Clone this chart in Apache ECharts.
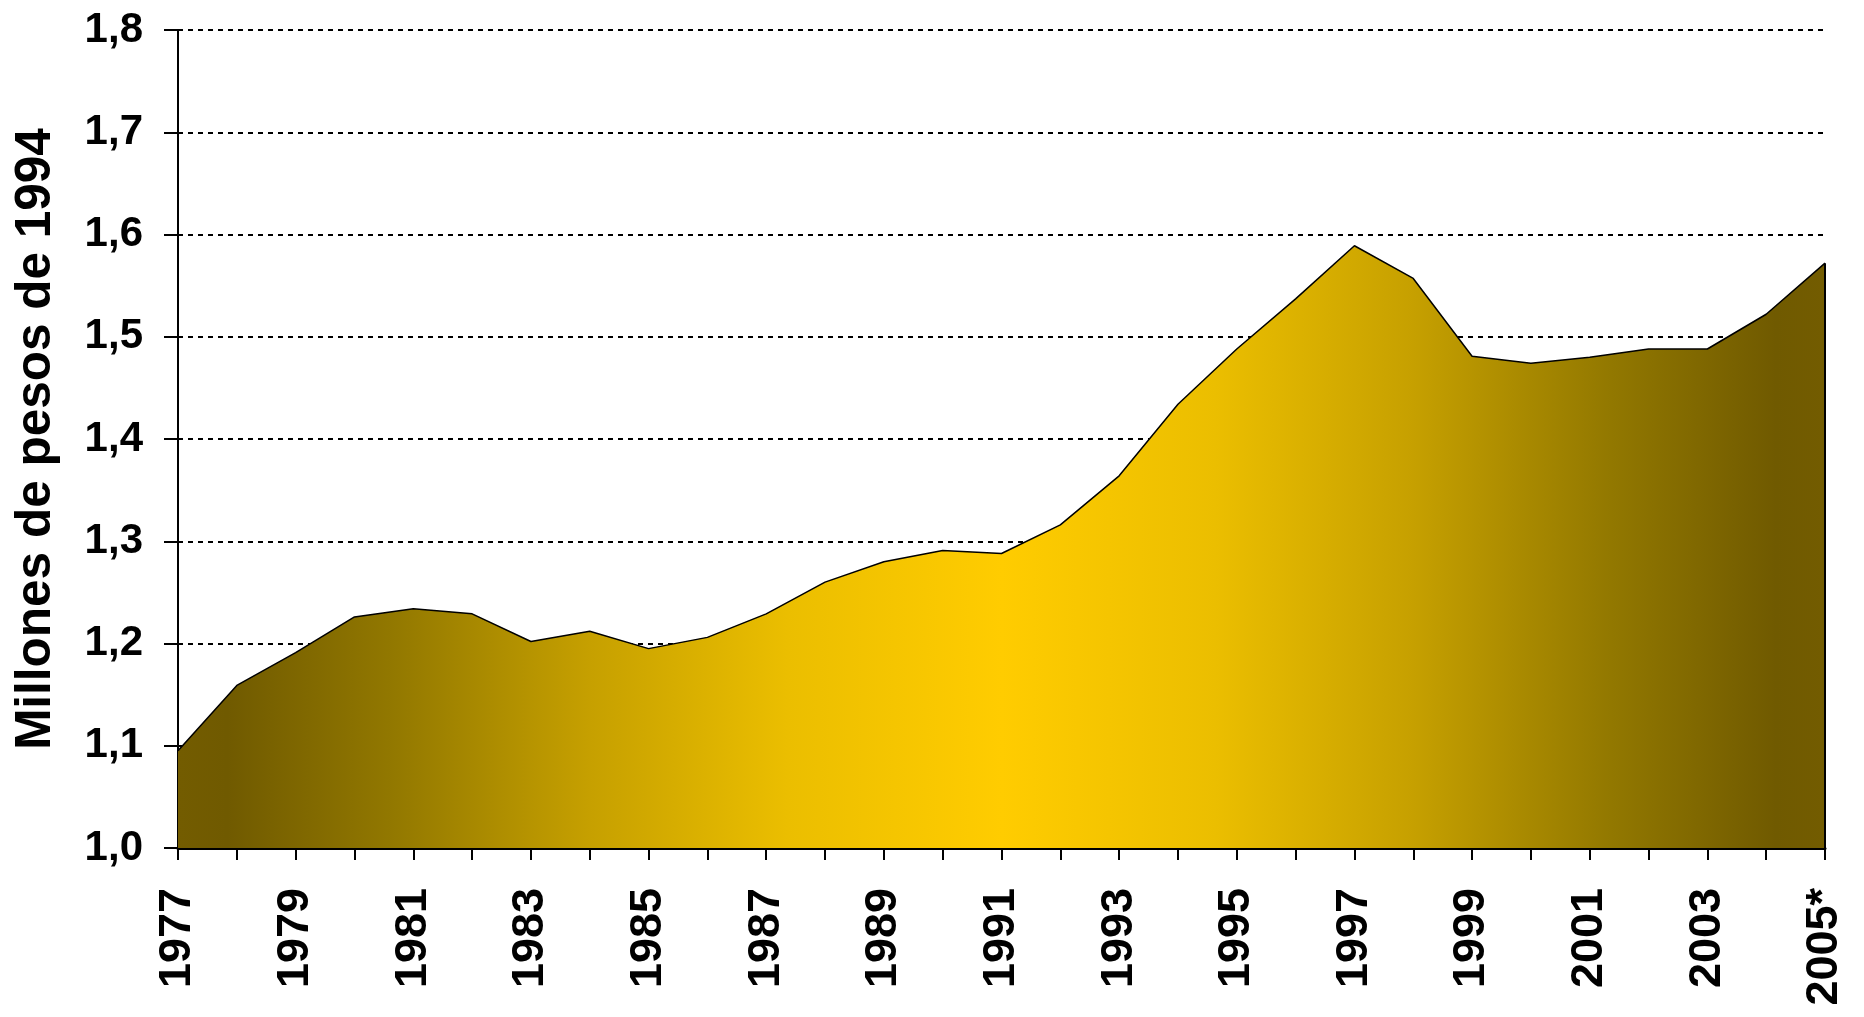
<!DOCTYPE html>
<html>
<head>
<meta charset="utf-8">
<script src="https://cdn.jsdelivr.net/npm/echarts@6/dist/echarts.min.js"></script>
<style>
  html, body { margin: 0; padding: 0; background: #fff; }
  #chart { width: 1864px; height: 1017px; }
</style>
</head>
<body>
<div id="chart"></div>
<script>
  // años (el último es estimado)
  const years = ['1977', '1978', '1979', '1980', '1981', '1982', '1983', '1984', '1985', '1986',
    '1987', '1988', '1989', '1990', '1991', '1992', '1993', '1994', '1995', '1996',
    '1997', '1998', '1999', '2000', '2001', '2002', '2003', '2004', '2005*']
  // millones de pesos de 1994
  const values = [1.095, 1.159, 1.191, 1.226, 1.234, 1.229, 1.202, 1.212, 1.195, 1.206,
    1.229, 1.260, 1.280, 1.291, 1.288, 1.316, 1.364, 1.434, 1.488, 1.537,
    1.589, 1.557, 1.481, 1.474, 1.480, 1.488, 1.488, 1.522, 1.572]
  const yTicks = [1.0, 1.1, 1.2, 1.3, 1.4, 1.5, 1.6, 1.7, 1.8]

  const font = "'Liberation Sans', Arial, sans-serif"
  const chart = echarts.init(document.getElementById('chart'))
  const last = years.length - 1

  chart.setOption({
    animation: false,
    grid: {
      left: 178,
      right: 39,
      top: 30,
      bottom: 169
    },
    xAxis: {
      type: 'category',
      data: years,
      boundaryGap: false,
      axisLine: { lineStyle: { color: '#000', width: 3 } },
      axisTick: {
        interval: 0,
        length: 12,
        lineStyle: { color: '#000', width: 2 }
      },
      axisLabel: {
        interval: 1,
        rotate: 90,
        margin: 40,
        color: '#000',
        fontFamily: font,
        fontWeight: 'bold',
        fontSize: 45
      },
      splitLine: { show: false }
    },
    yAxis: {
      type: 'value',
      min: yTicks[0],
      max: yTicks[yTicks.length - 1],
      interval: 0.1,
      name: 'Millones de pesos de 1994',
      nameLocation: 'middle',
      nameRotate: 90,
      nameGap: 117,
      nameTextStyle: {
        color: '#000',
        fontFamily: font,
        fontWeight: 'bold',
        fontSize: 49.5
      },
      axisLine: { show: true, lineStyle: { color: '#000', width: 2 } },
      axisTick: { show: true, length: 14, lineStyle: { color: '#000', width: 2 } },
      axisLabel: {
        margin: 35,
        color: '#000',
        fontFamily: font,
        fontWeight: 'bold',
        fontSize: 42,
        formatter: v => v.toFixed(1).replace('.', ',')
      },
      splitLine: {
        lineStyle: { color: '#000', width: 2, type: [5, 5] }
      }
    },
    series: [{
      type: 'line',
      data: values,
      symbol: 'none',
      z: 1,
      lineStyle: { color: '#000', width: 1.5 },
      areaStyle: {
        opacity: 1,
        origin: 'start',
        color: new echarts.graphic.LinearGradient(0, 0, 1, 0, [
          { offset: 0, color: '#735c00' },
          { offset: 0.03, color: '#705a00' },
          { offset: 0.13, color: '#927800' },
          { offset: 0.25, color: '#c6a000' },
          { offset: 0.37, color: '#ebbe00' },
          { offset: 0.5, color: '#ffcc00' },
          { offset: 0.63, color: '#ebbe00' },
          { offset: 0.75, color: '#c6a000' },
          { offset: 0.87, color: '#927800' },
          { offset: 0.97, color: '#705a00' },
          { offset: 1, color: '#735c00' }
        ])
      },
      markLine: {
        silent: true,
        symbol: 'none',
        label: { show: false },
        lineStyle: { color: '#000', width: 2, type: 'solid' },
        data: [[
          { coord: [years[last], yTicks[0]] },
          { coord: [years[last], values[last]] }
        ]]
      }
    }]
  })
</script>
</body>
</html>
